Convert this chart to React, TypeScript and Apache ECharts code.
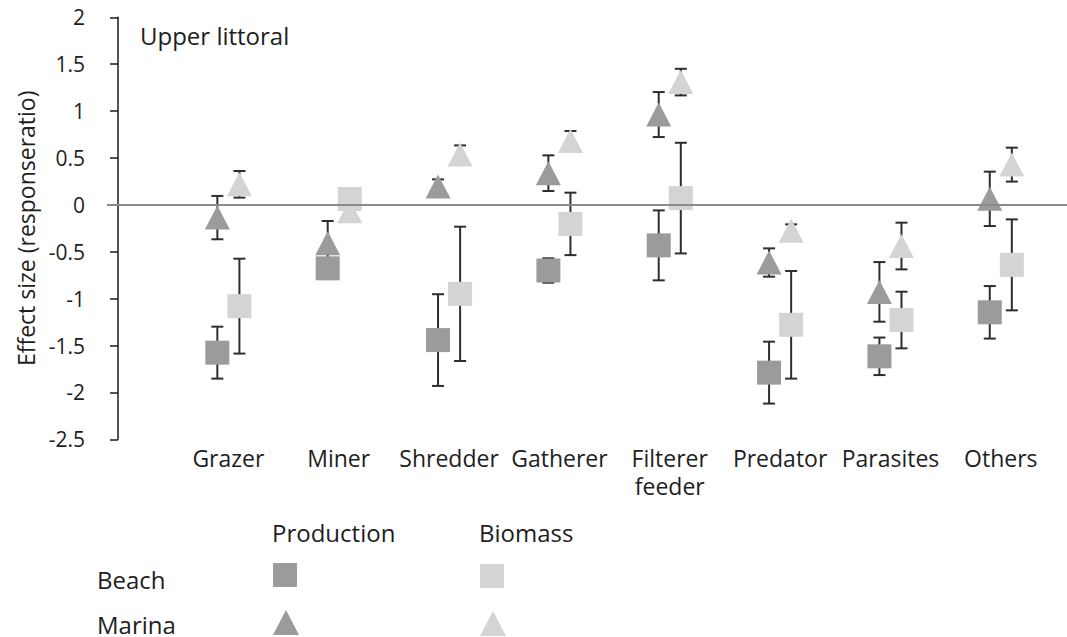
import React, { useEffect, useRef } from "react";
import * as echarts from "echarts";

// ---- data ----
const categories = ["Grazer", "Miner", "Shredder", "Gatherer", "Filterer\nfeeder", "Predator", "Parasites", "Others"];
const yTicks = { min: -2.5, max: 2, step: 0.5 };

// Beach (squares)
const beachProduction = [-1.576, -0.677, -1.442, -0.70, -0.432, -1.789, -1.615, -1.146];
const beachProductionErr = [0.277, 0.05, 0.489, 0.13, 0.373, 0.33, 0.2, 0.28];
const beachBiomass = [-1.08, 0.062, -0.949, -0.203, 0.072, -1.279, -1.228, -0.64];
const beachBiomassErr = [0.506, 0.05, 0.716, 0.333, 0.59, 0.574, 0.302, 0.485];

// Marina (triangles)
const marinaProduction = [-0.136, -0.41, 0.197, 0.338, 0.963, -0.615, -0.928, 0.064];
const marinaProductionErr = [0.231, 0.238, 0.075, 0.19, 0.24, 0.151, 0.318, 0.29];
const marinaBiomass = [0.219, -0.069, 0.538, 0.68, 1.309, -0.275, -0.439, 0.429];
const marinaBiomassErr = [0.142, 0.05, 0.096, 0.107, 0.142, 0.067, 0.249, 0.181];

const panelTitle = "Upper littoral";
const yAxisTitle = "Effect size (responseratio)";
const legendColumns = ["Production", "Biomass"];
const legendRows = ["Beach", "Marina"];

const DARK = "#9b9b9b";
const LIGHT = "#d4d4d4";
const TEXT = "#1e1e1e";
const FONT = '"Open Sans", "Noto Sans", sans-serif';

export default function App() {
  const ref = useRef<HTMLDivElement>(null);

  useEffect(() => {
    if (!ref.current) return;
    const chart = echarts.init(ref.current, undefined, { renderer: "svg" });

    const OFF = 0.1;
    const pts = (vals: number[], dx: number) => vals.map((v, i) => [i + 1 + dx, v]);
    const errs = (vals: number[], e: number[], dx: number) => vals.map((v, i) => [i + 1 + dx, v, e[i]]);

    const errData = [
      ...errs(marinaProduction, marinaProductionErr, -OFF),
      ...errs(marinaBiomass, marinaBiomassErr, OFF),
      ...errs(beachProduction, beachProductionErr, -OFF),
      ...errs(beachBiomass, beachBiomassErr, OFF),
    ];

    const errStyle = { stroke: "#2e2e2e", lineWidth: 2 };
    const CAP = 6;

    const option: any = {
      animation: false,
      backgroundColor: "#ffffff",
      grid: { left: 107, top: 17.3, width: 963, height: 422, containLabel: false },
      xAxis: {
        type: "value",
        min: -0.1,
        max: 8.6,
        axisLine: { show: false, onZero: false },
        axisTick: { show: false },
        splitLine: { show: false },
        axisLabel: {
          customValues: [1, 2, 3, 4, 5, 6, 7, 8],
          formatter: (v: number) => categories[Math.round(v) - 1] ?? "",
          color: TEXT,
          fontFamily: FONT,
          fontSize: 23,
          lineHeight: 28,
          margin: 5,
        },
      },
      yAxis: {
        type: "value",
        min: yTicks.min,
        max: yTicks.max,
        interval: yTicks.step,
        name: yAxisTitle,
        nameLocation: "middle",
        nameGap: 69,
        nameTextStyle: { color: TEXT, fontFamily: FONT, fontSize: 23 },
        axisLine: { show: true, lineStyle: { color: "#1a1a1a", width: 1.5 } },
        axisTick: { show: true, length: 8, lineStyle: { color: "#1a1a1a", width: 1.5 } },
        splitLine: { show: false },
        axisLabel: { color: TEXT, fontFamily: FONT, fontSize: 21, margin: 22 },
      },
      series: [
        {
          type: "custom",
          name: "errors",
          z: 1,
          data: errData,
          encode: { x: 0, y: 1 },
          renderItem: (_p: any, api: any) => {
            const x = api.value(0);
            const y = api.value(1);
            const e = api.value(2);
            const t = api.coord([x, y + e]);
            const b = api.coord([x, y - e]);
            return {
              type: "group",
              children: [
                { type: "line", shape: { x1: t[0], y1: t[1], x2: b[0], y2: b[1] }, style: errStyle },
                { type: "line", shape: { x1: t[0] - CAP, y1: t[1], x2: t[0] + CAP, y2: t[1] }, style: errStyle },
                { type: "line", shape: { x1: b[0] - CAP, y1: b[1], x2: b[0] + CAP, y2: b[1] }, style: errStyle },
              ],
            };
          },
          markLine: {
            silent: true,
            symbol: ["none", "none"],
            label: { show: false },
            lineStyle: { color: "#8a8a8a", width: 2, type: "solid" },
            data: [{ yAxis: 0 }],
          },
        },
        {
          type: "scatter",
          name: "Marina Production",
          z: 3,
          symbol: "triangle",
          symbolSize: [25, 24],
          itemStyle: { color: DARK, opacity: 1 },
          data: pts(marinaProduction, -OFF),
        },
        {
          type: "scatter",
          name: "Marina Biomass",
          z: 3,
          symbol: "triangle",
          symbolSize: [25, 24],
          itemStyle: { color: LIGHT, opacity: 1 },
          data: pts(marinaBiomass, OFF),
        },
        {
          type: "scatter",
          name: "Beach Production",
          z: 4,
          symbol: "rect",
          symbolSize: 24,
          itemStyle: { color: DARK, opacity: 1 },
          data: pts(beachProduction, -OFF),
        },
        {
          type: "scatter",
          name: "Beach Biomass",
          z: 4,
          symbol: "rect",
          symbolSize: 24,
          itemStyle: { color: LIGHT, opacity: 1 },
          data: pts(beachBiomass, OFF),
        },
      ],
      graphic: [
        {
          type: "text",
          x: 140,
          y: 35,
          style: { text: panelTitle, fill: TEXT, font: `24px ${FONT}`, textAlign: "left", textVerticalAlign: "middle" },
        },
        {
          type: "text",
          x: 272,
          y: 532,
          style: { text: legendColumns[0], fill: TEXT, font: `24px ${FONT}`, textAlign: "left", textVerticalAlign: "middle" },
        },
        {
          type: "text",
          x: 479,
          y: 532,
          style: { text: legendColumns[1], fill: TEXT, font: `24px ${FONT}`, textAlign: "left", textVerticalAlign: "middle" },
        },
        {
          type: "text",
          x: 97,
          y: 579,
          style: { text: legendRows[0], fill: TEXT, font: `24px ${FONT}`, textAlign: "left", textVerticalAlign: "middle" },
        },
        {
          type: "text",
          x: 97,
          y: 624,
          style: { text: legendRows[1], fill: TEXT, font: `24px ${FONT}`, textAlign: "left", textVerticalAlign: "middle" },
        },
        { type: "rect", shape: { x: 273, y: 563, width: 24, height: 24 }, style: { fill: DARK } },
        { type: "rect", shape: { x: 480, y: 564, width: 24, height: 24 }, style: { fill: LIGHT } },
        { type: "polygon", shape: { points: [[273, 635], [286, 610], [299, 635]] }, style: { fill: DARK } },
        { type: "polygon", shape: { points: [[480, 636], [493, 611], [506, 636]] }, style: { fill: LIGHT } },
      ],
    };

    chart.setOption(option);
    return () => chart.dispose();
  }, []);

  return (
    <div
      ref={ref}
      style={{ position: "fixed", left: 0, top: 0, width: 1067, height: 637, background: "#fff" }}
    />
  );
}
